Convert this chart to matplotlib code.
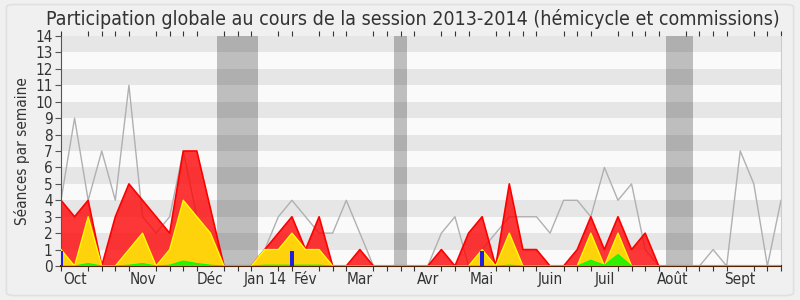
import numpy as np
import matplotlib
matplotlib.use('Agg')
import matplotlib.pyplot as plt
from matplotlib.patches import FancyBboxPatch

# semaines de la session 2013-2014 (index 0 = fin septembre 2013)
weeks = np.arange(54)

# ligne grise
total = [4, 9, 4, 7, 4, 11, 3, 2, 3, 7, 3, 0, 0, 0, 0, 1, 3, 4, 3, 2,
         2, 4, 2, 0, 0, 0, 0, 0, 2, 3, 0, 1, 2, 3, 3, 3, 2, 4, 4, 3,
         6, 4, 5, 1, 0, 0, 0, 0, 1, 0, 7, 5, 0, 4]
# zone rouge
commission = [4, 3, 4, 0, 3, 5, 4, 3, 2, 7, 7, 3.5, 0, 0, 0, 1, 2, 3, 1, 3,
              0, 0, 1, 0, 0, 0, 0, 0, 1, 0, 2, 3, 0, 5, 1, 1, 0, 0, 1, 3,
              1, 3, 1, 2, 0, 0, 0, 0, 0, 0, 0, 0, 0, 0]
# zone jaune
hemicycle = [1, 0, 3, 0, 0, 1, 2, 0, 1, 4, 3, 2, 0, 0, 0, 1, 1, 2, 1, 1,
             0, 0, 0, 0, 0, 0, 0, 0, 0, 0, 0, 1, 0, 2, 0, 0, 0, 0, 0, 2,
             0, 2, 0, 0, 0, 0, 0, 0, 0, 0, 0, 0, 0, 0]
# zone verte
interventions = [0, 0, 0.15, 0, 0, 0.05, 0.15, 0, 0.05, 0.3, 0.15, 0.05, 0, 0, 0, 0.05, 0.05, 0.05, 0.05, 0.05,
                 0, 0, 0, 0, 0, 0, 0, 0, 0, 0, 0, 0, 0, 0.05, 0, 0, 0, 0, 0, 0.35,
                 0.05, 0.7, 0, 0, 0, 0, 0, 0, 0, 0, 0, 0, 0, 0]
# barres bleues
questions_x = [0, 17, 31]
questions_y = [0.9, 0.9, 0.9]

# vacances parlementaires
vacances = [(11.5, 14.5), (24.5, 25.5), (44.5, 46.5)]

month_pos = [1, 6, 11, 15, 18, 22, 27, 31, 36, 40, 45, 50]
month_labels = ['Oct', 'Nov', 'Déc', 'Jan 14', 'Fév', 'Mar', 'Avr', 'Mai',
                'Juin', 'Juil', 'Août', 'Sept']

plt.rcParams['font.family'] = ['DejaVu Sans']
plt.rcParams['font.stretch'] = 'condensed'

fig = plt.figure(figsize=(8, 3), dpi=100, facecolor='#f0f0f0')
fig.patches.append(FancyBboxPatch((0.008, 0.015), 0.984, 0.97, boxstyle='round,pad=0,rounding_size=0.01',
                                  transform=fig.transFigure, facecolor='none',
                                  edgecolor='#e0e0e0', lw=1.2))
ax = fig.add_axes([0.07625, 0.1133, 0.9, 0.7667])
ax.set_facecolor('#fafafa')

for a, b in vacances:
    ax.axvspan(a, b, color='#bebebe', lw=0, zorder=0.5)
for k in range(1, 14, 2):
    ax.axhspan(k, k + 1, color='black', alpha=0.08, lw=0, zorder=0.6)

ax.plot(weeks, total, color='#b0b0b0', lw=1, zorder=1)
ax.fill_between(weeks, 0, commission, facecolor='#ff0000', alpha=0.78, lw=0, zorder=2)
ax.plot(weeks, commission, color='#ff0000', lw=1.2, zorder=2.1)
ax.fill_between(weeks, 0, hemicycle, facecolor='#ffd30b', lw=0, zorder=3)
ax.plot(weeks, hemicycle, color='#ffff00', lw=1, zorder=3.1)
ax.fill_between(weeks, 0, interventions, facecolor='#33ee00', lw=0, zorder=4)
ax.plot(weeks, interventions, color='#00ff00', lw=0.8, zorder=4.1)
ax.bar(questions_x, questions_y, width=0.32, color='#2020dd', zorder=5)

ax.set_xlim(0, 53)
ax.set_ylim(0, 14)
ax.set_yticks(range(15))
ax.set_xticks(weeks, minor=True)
ax.set_xticks(month_pos)
ax.set_xticklabels(month_labels)
ax.tick_params(axis='x', which='major', length=0, labelsize=11, pad=4)
ax.tick_params(axis='x', which='minor', length=3.5, width=0.8, color='#333333', top=True,
               direction='out')
ax.tick_params(axis='y', length=4, labelsize=11, color='#555555', pad=2)
for lbl in ax.get_xticklabels() + ax.get_yticklabels():
    lbl.set_color('#333333')

ax.spines['top'].set_visible(False)
ax.spines['right'].set_color('#cccccc')
ax.spines['left'].set_color('#555555')
ax.spines['bottom'].set_color('#552200')
ax.spines['bottom'].set_linewidth(1.5)

ax.set_ylabel('Séances par semaine', fontsize=11, color='#333333', labelpad=4)
fig.text(0.5156, 0.938, 'Participation globale au cours de la session 2013-2014 (hémicycle et commissions)',
         ha='center', va='center', fontsize=14, color='#333333')

fig.savefig('out.png', dpi=100, facecolor=fig.get_facecolor())
